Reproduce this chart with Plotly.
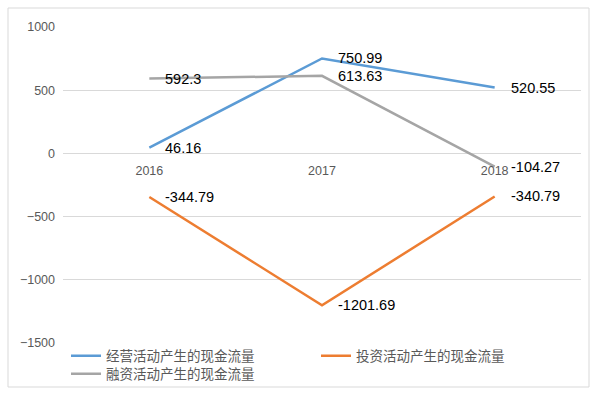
import plotly.graph_objects as go

years = ["2016", "2017", "2018"]
operating = [46.16, 750.99, 520.55]
investing = [-344.79, -1201.69, -340.79]
financing = [592.3, 613.63, -104.27]
names = ["经营活动产生的现金流量", "投资活动产生的现金流量", "融资活动产生的现金流量"]
colors = ["#5B9BD5", "#ED7D31", "#A5A5A5"]
legends = ["legend", "legend", "legend2"]
y_ticks = [1000, 500, 0, -500, -1000, -1500]

W, H = 614, 396
L, R, T, B = 63, 33, 27, 53
pw, ph = W - L - R, H - T - B

fig = go.Figure()
series = [operating, investing, financing]
for name, vals, col, lg in zip(names, series, colors, legends):
    fig.add_trace(go.Scatter(x=years, y=vals, name=name, mode="lines",
                             line=dict(color=col, width=2.5), legend=lg))

ann = []
for vals in series:
    for i, yv in enumerate(vals):
        ann.append(dict(x=i, y=yv, xref="x", yref="y", text=f"{yv:g}",
                        showarrow=False, xanchor="left", yanchor="middle",
                        xshift=14, font=dict(size=14.5, color="#000000",
                                             family="Liberation Sans")))

leg_common = dict(orientation="h", xanchor="left", yanchor="top",
                  entrywidth=205, entrywidthmode="pixels",
                  font=dict(size=13.5, color="#595959", family="Noto Sans CJK SC"),
                  tracegroupgap=0, itemwidth=30, bgcolor="rgba(0,0,0,0)")

fig.update_layout(
    width=W, height=H,
    margin=dict(l=L, r=R, t=T, b=B, autoexpand=False),
    paper_bgcolor="white", plot_bgcolor="white",
    font=dict(family="Liberation Sans", color="#595959", size=12.5),
    xaxis=dict(type="category", range=[-0.5, 2.5], showgrid=False,
               zeroline=False, showline=False, ticks="",
               anchor="free", position=0.6, ticklabelstandoff=8,
               tickfont=dict(size=12.5, color="#595959")),
    yaxis=dict(range=[-1500, 1000], tickvals=y_ticks, showgrid=True,
               gridcolor="#D9D9D9", gridwidth=1, zeroline=False,
               showline=False, ticks="", domain=[0, 1], ticklabelstandoff=7,
               tickfont=dict(size=12.5, color="#595959")),
    legend=dict(x=(66 - L) / pw, y=2.5 / ph, **leg_common),
    legend2=dict(x=(66 - L) / pw, y=-15.5 / ph, **leg_common),
    annotations=ann,
    shapes=[dict(type="rect", xref="paper", yref="paper",
                 x0=(8 - L) / pw, x1=(589 - L) / pw,
                 y0=(H - B - 387) / ph, y1=(H - B - 8) / ph,
                 line=dict(color="#D9D9D9", width=1), layer="below")],
)

fig.write_html("out.html", config={"displayModeBar": False},
               post_script="document.body.style.margin='0';document.body.style.overflow='hidden';")
